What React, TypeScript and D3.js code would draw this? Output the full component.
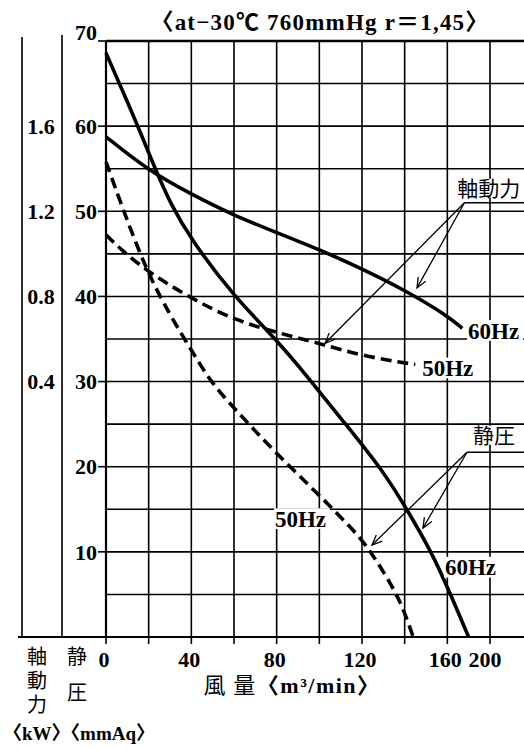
import * as d3 from "d3"

// 静圧 (mmAq) vs 風量 (m3/min)
const static60Flow = [0, 15, 23, 30, 40, 60, 80, 95, 111, 130, 141, 153, 161, 170]
const static60 = [68.6, 60, 55, 51, 46.6, 40, 34.9, 30.4, 25.4, 19.5, 15, 9.8, 5.3, 0]
const static50Flow = [0, 8, 19, 30, 40, 49.5, 60, 78, 99, 117.5, 124, 130, 136, 139.5, 144]
const static50 = [55.8, 50.2, 43, 37.8, 33.7, 29.8, 26.9, 22, 16.9, 12.2, 10, 7.7, 5.1, 3.2, 0]

// 軸動力 (kW) vs 風量
const power60Flow = [0, 20, 40, 60, 80, 100, 120, 140, 160, 167]
const power60 = [1.55, 1.39, 1.28, 1.18, 1.1, 1.02, 0.93, 0.83, 0.71, 0.65]
const power50Flow = [0, 7, 19, 40, 60, 80, 100, 120, 145]
const power50 = [1.09, 1.02, 0.92, 0.79, 0.69, 0.63, 0.58, 0.52, 0.48]

const xTicks = [0, 40, 80, 120, 160, 180]
const xTickLabels = ["0", "40", "80", "120", "160", "200"]
const pressureTicks = [10, 20, 30, 40, 50, 60, 70]
const powerTicks = [0.4, 0.8, 1.2, 1.6]

const W = 524
const H = 749
const SERIF = "'Liberation Serif', 'DejaVu Serif', serif"
const MIXED = "'Liberation Serif', 'Noto Sans CJK JP', serif"
const CJK = "'Noto Sans CJK JP', sans-serif"

const x = d3.scaleLinear().domain([0, 180]).range([106, 490])
const y = d3.scaleLinear().domain([0, 70]).range([637, 41])
const yKw = d3.scaleLinear().domain([0, 2]).range([y(20), y(70)])

const toPts = (xs: number[], ys: number[], ys2 = y) =>
  xs.map((v, i) => [x(v), ys2(ys[i])] as [number, number])

const line = d3.line().curve(d3.curveBasis)

function arrowHead(tip: [number, number], from: [number, number], size = 11) {
  const a = Math.atan2(tip[1] - from[1], tip[0] - from[0])
  const s = 0.4
  const p1 = [tip[0] - size * Math.cos(a - s), tip[1] - size * Math.sin(a - s)]
  const p2 = [tip[0] - size * Math.cos(a + s), tip[1] - size * Math.sin(a + s)]
  return `M${p1[0]},${p1[1]}L${tip[0]},${tip[1]}L${p2[0]},${p2[1]}`
}

function Leader({ elbow, tips }: { elbow: [number, number]; tips: [number, number][] }) {
  const e: [number, number] = [x(elbow[0]), y(elbow[1])]
  return (
    <g stroke="#000" strokeWidth={1.3} fill="none">
      <line x1={e[0]} y1={e[1]} x2={W} y2={e[1]} />
      {tips.map((t, i) => {
        const p: [number, number] = [x(t[0]), y(t[1])]
        return (
          <g key={i}>
            <line x1={e[0]} y1={e[1]} x2={p[0]} y2={p[1]} />
            <path d={arrowHead(p, e)} />
          </g>
        )
      })}
    </g>
  )
}

function Label({ at, text, size = 23, w, cjk = false }: { at: [number, number]; text: string; size?: number; w: number; cjk?: boolean }) {
  const px = x(at[0])
  const py = y(at[1])
  return (
    <g>
      <rect x={px - 1} y={py - size * 0.45} width={w} height={size * 0.9} fill="#fff" />
      <text
        x={px}
        y={py}
        dy="0.35em"
        fontSize={size}
        fontFamily={cjk ? CJK : MIXED}
        fontWeight={cjk ? "normal" : "bold"}
      >
        {text}
      </text>
    </g>
  )
}

export default function App() {
  const vGrid = d3.range(0, 201, 20).filter((v) => x(v) <= W)
  const hGrid = d3.range(5, 70, 5)

  return (
    <svg
      width={W}
      height={H}
      style={{ position: "absolute", left: 0, top: 0, background: "#fff" }}
    >
      <rect width={W} height={H} fill="#fff" />

      {/* title */}
      <text x={320} y={22} dy="0.35em" textAnchor="middle" fontSize={23} letterSpacing={1.2} fontFamily={MIXED} fontWeight="bold">
        〈at−30℃ 760mmHg r＝1,45〉
      </text>

      {/* grid */}
      <g stroke="#000" strokeWidth={1.6}>
        {vGrid.map((v) => (
          <line key={"v" + v} x1={x(v)} x2={x(v)} y1={y(70)} y2={y(0) + 7} />
        ))}
        {hGrid.map((v) => (
          <line key={"h" + v} x1={x(0)} x2={W} y1={y(v)} y2={y(v)} />
        ))}
        <line x1={x(0)} x2={W} y1={y(70)} y2={y(70)} strokeWidth={2.6} />
        <line x1={18} x2={W} y1={y(0)} y2={y(0)} strokeWidth={2.2} />
        <line x1={x(0)} x2={x(0)} y1={y(70)} y2={y(0)} strokeWidth={2.2} />
        <line x1={22} x2={22} y1={37} y2={y(0)} />
        <line x1={62} x2={62} y1={35} y2={y(0)} />
        {pressureTicks.map((v) => (
          <line key={"t" + v} x1={x(0) - 8} x2={x(0)} y1={y(v)} y2={y(v)} />
        ))}
      </g>

      {/* left axis labels */}
      <g fontFamily={SERIF} fontSize={22} fontWeight="bold">
        {pressureTicks.map((v) => (
          <text key={v} x={97} y={y(v)} dy={v === 70 ? "-0.05em" : "0.35em"} textAnchor="end">
            {v}
          </text>
        ))}
        {powerTicks.map((v) => (
          <text key={v} x={41} y={yKw(v)} dy="0.35em" textAnchor="middle">
            {v.toFixed(1)}
          </text>
        ))}
        {xTicks.map((v, i) => (
          <text key={"x" + v} x={x(v) - (i === 5 ? 5 : 2)} y={659} dy="0.35em" textAnchor="middle">
            {xTickLabels[i]}
          </text>
        ))}
      </g>

      {/* axis titles */}
      <g fontFamily={CJK} fontSize={20}>
        <text x={37} y={646} writingMode="tb" letterSpacing={4} textAnchor="start">軸動力</text>
        <text x={77} y={646} writingMode="tb" letterSpacing={16} textAnchor="start">静圧</text>
      </g>
      <text x={292} y={685} dy="0.35em" textAnchor="middle" fontSize={22} letterSpacing={1.5} fontFamily={MIXED}>
        <tspan fontFamily={CJK}>風 量</tspan>
        <tspan fontWeight="bold">〈m³/min〉</tspan>
      </text>
      <text x={3} y={733} dy="0.35em" fontSize={19} fontFamily={MIXED} fontWeight="bold">
        〈kW〉〈mmAq〉
      </text>

      {/* curves */}
      <g fill="none" stroke="#000" strokeWidth={3.6}>
        <path d={line(toPts(static60Flow, static60)) || ""} />
        <path d={line(toPts(power60Flow, power60, yKw)) || ""} />
        <path d={line(toPts(static50Flow, static50)) || ""} strokeDasharray="11,6" />
        <path d={line(toPts(power50Flow, power50, yKw)) || ""} strokeDasharray="11,6" />
      </g>

      {/* annotations */}
      <Leader elbow={[168, 51]} tips={[[145.8, 41], [102.7, 34.5]]} />
      <Leader elbow={[169.2, 21.7]} tips={[[124.7, 10.8], [148.6, 12.8]]} />
      <Label at={[164.6, 52.7]} text="軸動力" size={21} w={70} cjk />
      <Label at={[172, 23.7]} text="静圧" size={21} w={50} cjk />
      <Label at={[169.7, 36]} text="60Hz" w={56} />
      <Label at={[148.2, 31.6]} text="50Hz" w={56} />
      <Label at={[79.2, 13.9]} text="50Hz" w={56} />
      <Label at={[158.9, 8.2]} text="60Hz" w={56} />
    </svg>
  )
}
